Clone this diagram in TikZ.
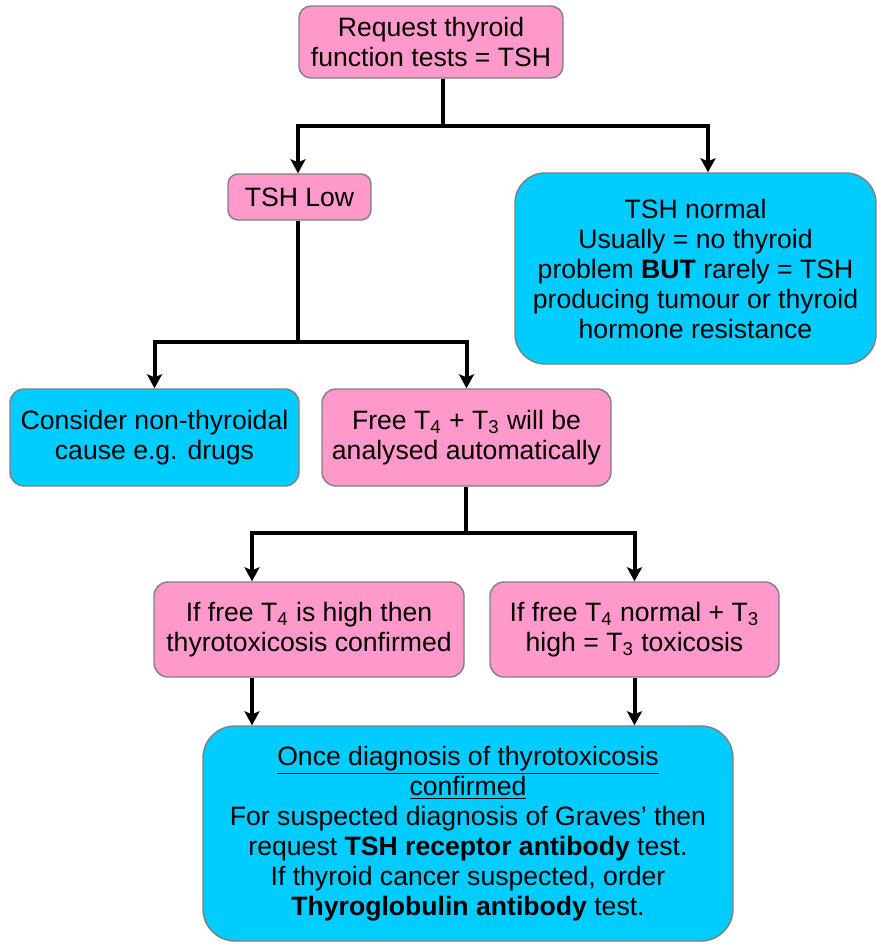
\documentclass[tikz,border=0pt]{standalone}
\usepackage{fontspec}
\setmainfont{Liberation Sans}
\usetikzlibrary{arrows.meta}
\definecolor{boxpink}{HTML}{FF99CC}
\definecolor{boxblue}{HTML}{00CCFF}
\definecolor{boxedge}{HTML}{7F7F7F}
\tikzset{
  box/.style={draw=boxedge, line width=0.7pt, align=center, inner sep=0pt,
    font=\fontsize{13.3}{15}\selectfont},
  pinkbox/.style={box, fill=boxpink, rounded corners=6pt},
  bluebox/.style={box, fill=boxblue, rounded corners=7pt},
  link/.style={line width=2pt},
  arrow/.style={link, -{Stealth[length=7pt,width=7.5pt,inset=1.5pt]}}
}
\begin{document}
\begin{tikzpicture}[x=0.5pt,y=-0.5pt]
  \useasboundingbox (0,0) rectangle (877,944);
  % boxes
  \node[pinkbox, minimum width=132pt, minimum height=36pt] (req) at (431,42)
    {Request thyroid\\function tests = TSH};
  \node[pinkbox, minimum width=71.5pt, minimum height=23pt, rounded corners=5pt] (low) at (299.5,197)
    {TSH Low};
  \node[bluebox, minimum width=180.5pt, minimum height=95.5pt, rounded corners=15pt] (normal) at (695.5,268.5)
    {TSH normal\\Usually = no thyroid\\problem \textbf{BUT} rarely = TSH\\producing tumour or thyroid\\hormone resistance};
  \node[bluebox, minimum width=144.5pt, minimum height=48.5pt] (cons) at (154.5,437.5)
    {Consider non-thyroidal\\cause e.g. drugs};
  \node[pinkbox, minimum width=144.5pt, minimum height=48.5pt, rounded corners=7pt] (free) at (466.5,437.5)
    {Free T\textsubscript{4} + T\textsubscript{3} will be\\analysed automatically};
  \node[pinkbox, minimum width=155pt, minimum height=47.5pt, rounded corners=7pt] (high) at (309,629.5)
    {If free T\textsubscript{4} is high then\\thyrotoxicosis confirmed};
  \node[pinkbox, minimum width=144.5pt, minimum height=47.5pt, rounded corners=7pt] (tnorm) at (634.5,629.5)
    {If free T\textsubscript{4} normal + T\textsubscript{3}\\high = T\textsubscript{3} toxicosis};
  \node[bluebox, minimum width=265pt, minimum height=107.5pt, rounded corners=16pt] (once) at (468,833.5)
    {\underline{Once diagnosis of thyrotoxicosis}\\\underline{confirmed}\\For suspected diagnosis of Graves’ then\\request \textbf{TSH receptor antibody} test.\\If thyroid cancer suspected, order\\\textbf{Thyroglobulin antibody} test.};
  % connectors
  \coordinate (j1) at (443,126);
  \coordinate (j2) at (298,342);
  \coordinate (j3) at (466,533);
  \draw[link] (req.south -| j1) -- (j1);
  \draw[arrow] (j1) -| ([xshift=-0.75pt]low.north);
  \draw[arrow] (j1) -| ([xshift=6.25pt]normal.north);
  \draw[link] (low.south -| j2) -- (j2);
  \draw[arrow] (j2) -| (cons.north);
  \draw[arrow] (j2) -| (free.north);
  \draw[link] (free.south -| j3) -- (j3);
  \draw[arrow] (j3) -| ([xshift=-28.5pt]high.north);
  \draw[arrow] (j3) -| (tnorm.north);
  \draw[arrow] ([xshift=-28.5pt]high.south) -- ([xshift=-28.5pt]high.south |- once.north);
  \draw[arrow] (tnorm.south) -- (tnorm.south |- once.north);
\end{tikzpicture}
\end{document}
